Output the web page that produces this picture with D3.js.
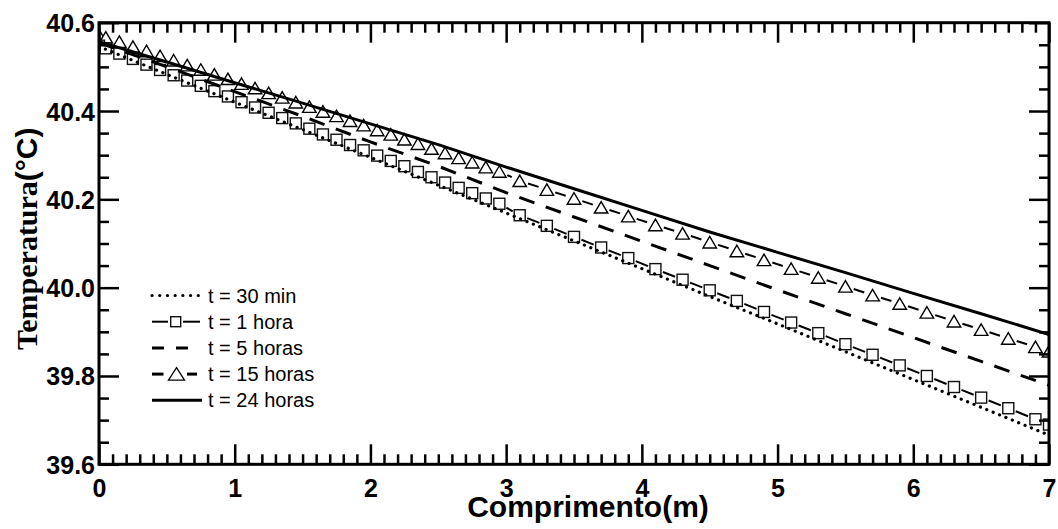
<!DOCTYPE html>
<html>
<head>
<meta charset="utf-8">
<script src="https://cdn.jsdelivr.net/npm/d3@7"></script>
<style>
  html, body { margin: 0; padding: 0; background: #fff; }
  svg { display: block; }
</style>
</head>
<body>
<svg id="chart" width="1058" height="529"></svg>
<script>
// Positions along the pipe (m) for the curves drawn with markers
const xMarked = [0, 0.05, 0.15, 0.25, 0.35, 0.45, 0.55, 0.65, 0.75, 0.85, 0.95,
  1.05, 1.15, 1.25, 1.35, 1.45, 1.55, 1.65, 1.75, 1.85, 1.95,
  2.05, 2.15, 2.25, 2.35, 2.45, 2.55, 2.65, 2.75, 2.85, 2.95,
  3.1, 3.3, 3.5, 3.7, 3.9, 4.1, 4.3, 4.5, 4.7, 4.9,
  5.1, 5.3, 5.5, 5.7, 5.9, 6.1, 6.3, 6.5, 6.7, 6.9, 7.0];

// Positions for the plain curves
const xLine = [0, 0.5, 1, 1.5, 2, 2.5, 3, 3.5, 4, 4.5, 5, 5.5, 6, 6.5, 7];

// Temperatures (°C)
const t1hora = [40.548, 40.542, 40.530, 40.518, 40.505, 40.493, 40.481, 40.469, 40.457, 40.445, 40.433,
  40.420, 40.408, 40.396, 40.384, 40.372, 40.360, 40.347, 40.335, 40.323, 40.311,
  40.299, 40.287, 40.275, 40.262, 40.250, 40.238, 40.226, 40.214, 40.202, 40.190,
  40.164, 40.140, 40.115, 40.091, 40.067, 40.042, 40.018, 39.994, 39.970, 39.945,
  39.921, 39.897, 39.872, 39.848, 39.824, 39.800, 39.775, 39.751, 39.727, 39.702, 39.690];

const t15horas = [40.572, 40.567, 40.557, 40.546, 40.536, 40.525, 40.515, 40.504, 40.494, 40.483, 40.473,
  40.462, 40.452, 40.441, 40.431, 40.420, 40.410, 40.399, 40.389, 40.378, 40.368,
  40.357, 40.347, 40.336, 40.326, 40.315, 40.305, 40.294, 40.284, 40.273, 40.263,
  40.242, 40.222, 40.202, 40.182, 40.162, 40.142, 40.123, 40.103, 40.083, 40.063,
  40.043, 40.023, 40.003, 39.983, 39.964, 39.944, 39.924, 39.905, 39.885, 39.866, 39.856];

const t30min = [40.546, 40.483, 40.420, 40.358, 40.295, 40.232, 40.169, 40.106,
  40.043, 39.980, 39.918, 39.855, 39.792, 39.729, 39.666];

const t5horas = [40.555, 40.500, 40.444, 40.388, 40.330, 40.275, 40.215, 40.160,
  40.105, 40.050, 39.995, 39.941, 39.887, 39.833, 39.779];

const t24horas = [40.557, 40.511, 40.464, 40.418, 40.371, 40.324, 40.273, 40.224,
  40.175, 40.126, 40.080, 40.034, 39.987, 39.941, 39.894];

const legendLabels = ["t = 30 min", "t = 1 hora", "t = 5 horas", "t = 15 horas", "t = 24 horas"];

const xMajor = [0, 1, 2, 3, 4, 5, 6, 7];
const yMajor = [39.6, 39.8, 40.0, 40.2, 40.4, 40.6];

// ---- layout ----
const L = 99, R = 1049, T = 22.7, B = 464.3;
const svg = d3.select("#chart");
svg.append("rect").attr("width", 1058).attr("height", 529).attr("fill", "#fff");

const x = d3.scaleLinear().domain([0, 7]).range([L, R]);
const y = d3.scaleLinear().domain([39.6, 40.6]).range([B, T]);

const xMinor = d3.range(0, 71).map(i => i / 10).filter(v => Math.abs(v - Math.round(v)) > 1e-6);
const yMinor = d3.range(0, 21).map(i => 39.6 + i * 0.05).filter((v, i) => i % 4 !== 0);

svg.append("clipPath").attr("id", "plotclip")
  .append("rect").attr("x", L).attr("y", T).attr("width", R - L).attr("height", B - T);

const plot = svg.append("g").attr("clip-path", "url(#plotclip)");

const SQ = 11;      // square side
const TRW = 13.5, TRH = 11.5; // triangle width/height
const trianglePath = `M0,${-TRH / 2}L${TRW / 2},${TRH / 2}L${-TRW / 2},${TRH / 2}Z`;

// line broken around each marker
function gappedSegments(g, xs, ys, gap) {
  const pts = xs.map((v, i) => [x(v), y(ys[i])]);
  for (let i = 0; i < pts.length - 1; i++) {
    const [x0, y0] = pts[i], [x1, y1] = pts[i + 1];
    const d = Math.hypot(x1 - x0, y1 - y0);
    if (d <= 2 * gap + 1) continue;
    const ux = (x1 - x0) / d, uy = (y1 - y0) / d;
    g.append("line")
      .attr("x1", x0 + ux * gap).attr("y1", y0 + uy * gap)
      .attr("x2", x1 - ux * gap).attr("y2", y1 - uy * gap)
      .attr("stroke", "#000").attr("stroke-width", 2);
  }
}

// t = 15 horas : triangles
const g15 = plot.append("g");
gappedSegments(g15, xMarked, t15horas, TRW / 2 + 2);
g15.selectAll("path.tri").data(xMarked).join("path")
  .attr("class", "tri")
  .attr("d", trianglePath)
  .attr("transform", (d, i) => `translate(${x(d)},${y(t15horas[i])})`)
  .attr("fill", "#fff").attr("stroke", "#000").attr("stroke-width", 1.4);

// t = 1 hora : squares
const g1 = plot.append("g");
gappedSegments(g1, xMarked, t1hora, SQ / 2 + 2.5);
g1.selectAll("rect.sq").data(xMarked).join("rect")
  .attr("class", "sq")
  .attr("x", d => x(d) - SQ / 2)
  .attr("y", (d, i) => y(t1hora[i]) - SQ / 2)
  .attr("width", SQ).attr("height", SQ)
  .attr("fill", "#fff").attr("stroke", "#111").attr("stroke-width", 1.4);

const line = d3.line().x(d => x(d[0])).y(d => y(d[1]));

// t = 5 horas : dashed
plot.append("path")
  .attr("d", line(xLine.map((v, i) => [v, t5horas[i]])))
  .attr("fill", "none").attr("stroke", "#000").attr("stroke-width", 3)
  .attr("stroke-dasharray", "16,12");

// t = 30 min : dotted
plot.append("path")
  .attr("d", line(xLine.map((v, i) => [v, t30min[i]])))
  .attr("fill", "none").attr("stroke", "#000").attr("stroke-width", 3.2)
  .attr("stroke-linecap", "round")
  .attr("stroke-dasharray", "0.1,6.8");

// t = 24 horas : solid
plot.append("path")
  .attr("d", line(xLine.map((v, i) => [v, t24horas[i]])))
  .attr("fill", "none").attr("stroke", "#000").attr("stroke-width", 3);

// ---- axes (ticks inward on all four sides) ----
const FONT = "'Liberation Sans', Arial, Helvetica, sans-serif";

function styleAxis(g) {
  g.select(".domain").remove();
  g.selectAll(".tick line").attr("stroke", "#000").attr("stroke-width", 2.5);
}

// bottom
svg.append("g").attr("transform", `translate(0,${B})`)
  .call(d3.axisBottom(x).tickValues(xMinor).tickSize(-10).tickFormat(""))
  .call(styleAxis);
const xb = svg.append("g").attr("transform", `translate(0,${B})`)
  .call(d3.axisBottom(x).tickValues(xMajor).tickSize(-20).tickPadding(15).tickFormat(d3.format("d")))
  .call(styleAxis);
xb.selectAll("text").attr("font-family", FONT).attr("font-weight", "bold")
  .attr("font-size", 25).attr("fill", "#000");

// top
svg.append("g").attr("transform", `translate(0,${T})`)
  .call(d3.axisTop(x).tickValues(xMinor).tickSize(-10).tickFormat(""))
  .call(styleAxis);
svg.append("g").attr("transform", `translate(0,${T})`)
  .call(d3.axisTop(x).tickValues(xMajor).tickSize(-20).tickFormat(""))
  .call(styleAxis);

// left
svg.append("g").attr("transform", `translate(${L},0)`)
  .call(d3.axisLeft(y).tickValues(yMinor).tickSize(-10).tickFormat(""))
  .call(styleAxis);
const yl = svg.append("g").attr("transform", `translate(${L},0)`)
  .call(d3.axisLeft(y).tickValues(yMajor).tickSize(-20).tickPadding(4).tickFormat(d3.format(".1f")))
  .call(styleAxis);
yl.selectAll("text").attr("font-family", FONT).attr("font-weight", "bold")
  .attr("font-size", 25).attr("fill", "#000").attr("dy", "0.36em");

// right
svg.append("g").attr("transform", `translate(${R},0)`)
  .call(d3.axisRight(y).tickValues(yMinor).tickSize(-10).tickFormat(""))
  .call(styleAxis);
svg.append("g").attr("transform", `translate(${R},0)`)
  .call(d3.axisRight(y).tickValues(yMajor).tickSize(-20).tickFormat(""))
  .call(styleAxis);

// frame
svg.append("rect").attr("x", L).attr("y", T).attr("width", R - L).attr("height", B - T)
  .attr("fill", "none").attr("stroke", "#000").attr("stroke-width", 3);

// ---- axis titles ----
svg.append("text")
  .attr("x", 588).attr("y", 516.5).attr("text-anchor", "middle")
  .attr("font-family", FONT).attr("font-weight", "bold").attr("font-size", 30)
  .text("Comprimento(m)");

const yt = svg.append("text")
  .attr("transform", "translate(37,350) rotate(-90)")
  .attr("font-weight", "bold").attr("font-size", 30);
yt.append("tspan").attr("font-family", "'Liberation Serif', 'Times New Roman', serif").text("Temperatura");
yt.append("tspan").attr("font-family", FONT).text("(°C)");

// ---- legend ----
const leg = svg.append("g");
const lx0 = 152, lx1 = 199, rowY = i => 302.5 + i * 26.2;
legendLabels.forEach((lab, i) => {
  const yy = rowY(i) - 7;
  if (i === 0) {
    leg.append("line").attr("x1", lx0).attr("x2", lx1).attr("y1", yy).attr("y2", yy)
      .attr("stroke", "#000").attr("stroke-width", 3.2).attr("stroke-linecap", "round")
      .attr("stroke-dasharray", "0.1,7.6");
  } else if (i === 1) {
    leg.append("line").attr("x1", lx0).attr("x2", 168).attr("y1", yy).attr("y2", yy)
      .attr("stroke", "#000").attr("stroke-width", 2);
    leg.append("line").attr("x1", 183).attr("x2", 200).attr("y1", yy).attr("y2", yy)
      .attr("stroke", "#000").attr("stroke-width", 2);
    leg.append("rect").attr("x", 175.7 - 5).attr("y", yy - 5).attr("width", 10).attr("height", 10)
      .attr("fill", "#fff").attr("stroke", "#111").attr("stroke-width", 1.4);
  } else if (i === 2) {
    leg.append("line").attr("x1", lx0).attr("x2", 188).attr("y1", yy).attr("y2", yy)
      .attr("stroke", "#000").attr("stroke-width", 3).attr("stroke-dasharray", "12,12");
  } else if (i === 3) {
    leg.append("line").attr("x1", lx0).attr("x2", 163.5).attr("y1", yy).attr("y2", yy)
      .attr("stroke", "#000").attr("stroke-width", 3);
    leg.append("line").attr("x1", 187).attr("x2", 197).attr("y1", yy).attr("y2", yy)
      .attr("stroke", "#000").attr("stroke-width", 3);
    leg.append("path").attr("d", `M0,-6.5L8,6L-8,6Z`)
      .attr("transform", `translate(176.5,${yy})`)
      .attr("fill", "#fff").attr("stroke", "#000").attr("stroke-width", 1.3);
  } else {
    leg.append("line").attr("x1", lx0).attr("x2", 202).attr("y1", yy).attr("y2", yy)
      .attr("stroke", "#000").attr("stroke-width", 3);
  }
  leg.append("text").attr("x", 208).attr("y", rowY(i))
    .attr("font-family", FONT).attr("font-size", 20).attr("fill", "#000")
    .text(lab);
});
</script>
</body>
</html>
